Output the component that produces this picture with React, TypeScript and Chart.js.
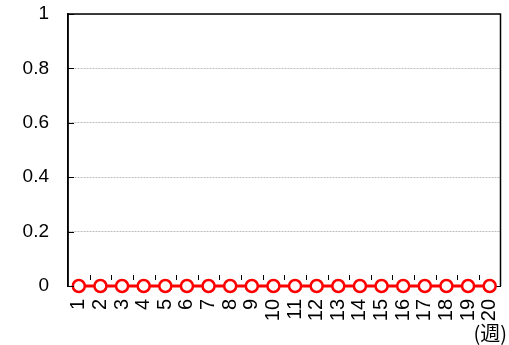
import React, { useEffect, useRef } from "react";
import { Chart, registerables } from "chart.js";

Chart.register(...registerables);

const weeks = ["1","2","3","4","5","6","7","8","9","10","11","12","13","14","15","16","17","18","19","20"];
const seriesBlue = [0,0,0,0,0,0,0,0,0,0,0,0,0,0,0,0,0,0,0,0];
const seriesOrange = [0,0,0,0,0,0,0,0,0,0,0,0,0,0,0,0,0,0,0,0];
const seriesRed = [0,0,0,0,0,0,0,0,0,0,0,0,0,0,0,0,0,0,0,0];
const yTicks = [0, 0.2, 0.4, 0.6, 0.8, 1];
const xUnit = "(週)";

const FONT = "'Liberation Sans', Arial, sans-serif";

const innerTicks = {
  id: "innerTicks",
  afterDatasetsDraw(chart: any) {
    const { ctx, chartArea, scales } = chart;
    const y = scales.y;
    const x = scales.x;
    ctx.save();
    ctx.strokeStyle = "#000";
    ctx.lineWidth = 1;
    ctx.beginPath();
    yTicks.forEach((v) => {
      const py = Math.round(y.getPixelForValue(v)) + 0.5;
      ctx.moveTo(chartArea.left, py);
      ctx.lineTo(chartArea.left + 6, py);
    });
    for (let i = 1; i < weeks.length; i++) {
      const px = Math.round((x.getPixelForValue(i - 1) + x.getPixelForValue(i)) / 2) + 0.5;
      ctx.moveTo(px, chartArea.bottom - 6);
      ctx.lineTo(px, chartArea.bottom - 11);
    }
    ctx.stroke();
    ctx.fillStyle = "#000";
    ctx.font = "20px 'Noto Sans CJK JP', sans-serif";
    ctx.textAlign = "right";
    ctx.textBaseline = "middle";
    ctx.fillText(xUnit, chart.width - 2, 333);
    ctx.restore();
  },
};

export default function App() {
  const ref = useRef<HTMLCanvasElement>(null);
  useEffect(() => {
    if (!ref.current) return;
    const chart = new Chart(ref.current, {
      type: "line",
      data: {
        labels: weeks,
        datasets: [
          {
            data: seriesBlue,
            borderColor: "#3344ee",
            borderWidth: 2,
            pointStyle: "rect",
            pointRadius: 6.5,
            pointBorderWidth: 1,
            pointBorderColor: "#4455ee",
            pointBackgroundColor: "#7788ff",
            clip: false,
            order: 3,
          },
          {
            data: seriesOrange,
            borderColor: "#e0a040",
            borderWidth: 2,
            pointStyle: "triangle",
            pointRadius: 7,
            pointBorderWidth: 1,
            pointBorderColor: "#c09050",
            pointBackgroundColor: "#e0b070",
            clip: false,
            order: 2,
          },
          {
            data: seriesRed,
            borderColor: "#ff0000",
            borderWidth: 3,
            pointStyle: "circle",
            pointRadius: 6,
            pointBorderWidth: 2.5,
            pointBorderColor: "#ff0000",
            pointBackgroundColor: "#ffffff",
            clip: false,
            order: 1,
          },
        ],
      },
      options: {
        animation: false,
        responsive: true,
        maintainAspectRatio: false,
        layout: { padding: { top: 14, right: 8, left: 0, bottom: 0 } },
        plugins: {
          legend: { display: false },
          tooltip: { enabled: false },
        },
        scales: {
          x: {
            type: "category",
            offset: true,
            grid: { display: false, drawTicks: false },
            border: { display: true, color: "#000", width: 1 },
            ticks: {
              maxRotation: 90,
              minRotation: 90,
              autoSkip: false,
              color: "#000",
              padding: 13,
              font: { family: FONT, size: 20 },
            },
            afterFit(scale: any) {
              scale.height = 59;
              scale.paddingLeft = 0;
              scale.paddingRight = 0;
            },
          },
          y: {
            min: 0,
            max: 1,
            afterBuildTicks(scale: any) {
              scale.ticks = yTicks.map((v) => ({ value: v }));
            },
            grid: {
              color: (c: any) => (c.tick && c.tick.value === 0 ? "rgba(0,0,0,0)" : "#bdbdbd"),
              drawTicks: false,
            },
            border: { display: true, color: "#000", width: 1.5, dash: [2, 1] },
            ticks: {
              color: "#000",
              padding: 19,
              font: { family: FONT, size: 19 },
              callback: (v: any) => String(v),
            },
            afterFit(scale: any) {
              scale.width = 68;
              scale.paddingTop = 0;
              scale.paddingBottom = 0;
            },
          },
        },
      },
      plugins: [
        innerTicks,
        {
          id: "frame",
          beforeDatasetsDraw(chart: any) {
            const { ctx, chartArea } = chart;
            ctx.save();
            ctx.strokeStyle = "#000";
            ctx.lineWidth = 1.5;
            ctx.beginPath();
            ctx.moveTo(chartArea.left, chartArea.top);
            ctx.lineTo(chartArea.right, chartArea.top);
            ctx.lineTo(chartArea.right, chartArea.bottom);
            ctx.moveTo(chartArea.left, chartArea.top);
            ctx.lineTo(chartArea.left, chartArea.bottom);
            ctx.stroke();
            ctx.restore();
          },
        },
      ],
    } as any);
    return () => chart.destroy();
  }, []);
  return (
    <div style={{ position: "fixed", left: 0, top: 0, width: 509, height: 345, background: "#fff" }}>
      <canvas ref={ref} />
    </div>
  );
}
